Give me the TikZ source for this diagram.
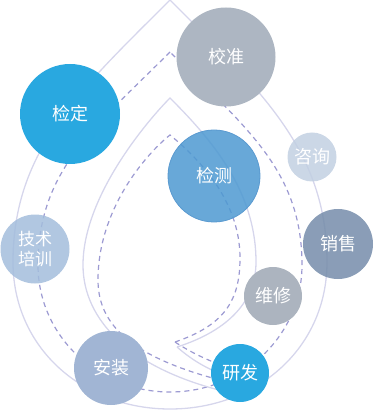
\documentclass[tikz,border=0pt]{standalone}
\usepackage{fontspec}
\newfontfamily\cjk{Noto Sans CJK SC}
\definecolor{solidln}{HTML}{D6D6EC}
\definecolor{dashln}{HTML}{9C9AD2}
\definecolor{cJD}{HTML}{29A8E0}
\definecolor{cJZ}{HTML}{ADB6C2}
\definecolor{cJC}{HTML}{4D99D1}
\definecolor{cJCb}{HTML}{5A9AD0}
\definecolor{cZX}{HTML}{C2D0E2}
\definecolor{cPX}{HTML}{A3BDDC}
\definecolor{cXS}{HTML}{758CAA}
\definecolor{cWX}{HTML}{ACB4BF}
\definecolor{cAZ}{HTML}{A1B5D4}
\definecolor{cYF}{HTML}{29A8E0}
\tikzset{
  solidline/.style={draw=solidln, line width=1.3pt},
  dashline/.style={draw=dashln, line width=1.2pt, dash pattern=on 5pt off 4pt},
  bubble/.style={circle, inner sep=0pt, text=white, font=\cjk\fontsize{18}{21}\selectfont, align=center},
  seethru/.style={fill opacity=0.85, text opacity=1}
}
\begin{document}
\begin{tikzpicture}[x=1pt,y=-1pt]
\useasboundingbox (0,0) rectangle (373,411);
% outer solid drop
\draw[solidline] (170,0) .. controls (80,90) and (13,150) .. (13,262)
  .. controls (13,348) and (83,409) .. (170,409)
  .. controls (257,409) and (327,348) .. (327,262)
  .. controls (327,150) and (260,90) .. cycle;
% outer dashed drop
\draw[dashline] (170,52) .. controls (95,127) and (38,170) .. (38,265)
  .. controls (38,335) and (97,392) .. (170,392)
  .. controls (243,392) and (302,335) .. (302,265)
  .. controls (302,170) and (245,127) .. cycle;
% inner solid spiral
\coordinate (cs) at (177,347);
\draw[solidline] (cs) .. controls (230,330) and (256,300) .. (256,262)
  .. controls (256,190) and (210,138) .. (170,98)
  .. controls (150,118) and (83,195) .. (83,265)
  .. controls (83,320) and (130,372) .. (240,395);
\draw[solidline] (cs) .. controls (192,360) and (210,372) .. (240,380);
% inner dashed spiral
\coordinate (cd) at (175,342);
\draw[dashline] (cd) .. controls (225,325) and (240,300) .. (240,258)
  .. controls (240,200) and (198,158) .. (170,135)
  .. controls (145,155) and (98,210) .. (98,280)
  .. controls (98,330) and (140,362) .. (240,385);
\draw[dashline] (cd) .. controls (190,352) and (210,362) .. (240,372);
% bubbles
\node[bubble, fill=cJD, minimum size=100pt] (jd) at (70,114) {检定};
\node[bubble, fill=cJZ, minimum size=99pt] (jz) at (226,57) {校准};
\node[bubble, seethru, fill=cJC, draw=cJCb, line width=0.8pt, minimum size=92pt] (jc) at (214,176) {检测};
\node[bubble, seethru, fill=cZX, minimum size=49pt] (zx) at (312,157) {咨询};
\node[bubble, seethru, fill=cPX, minimum size=69pt, font=\cjk\fontsize{17}{20}\selectfont] (px) at (35,249) {技术\\培训};
\node[bubble, seethru, fill=cXS, minimum size=70pt] (xs) at (338,244) {销售};
\node[bubble, fill=cWX, minimum size=58pt] (wx) at (273,296) {维修};
\node[bubble, fill=cAZ, minimum size=74pt] (az) at (111,368) {安装};
\node[bubble, fill=cYF, minimum size=58pt] (yf) at (240,373) {研发};
\end{tikzpicture}
\end{document}
